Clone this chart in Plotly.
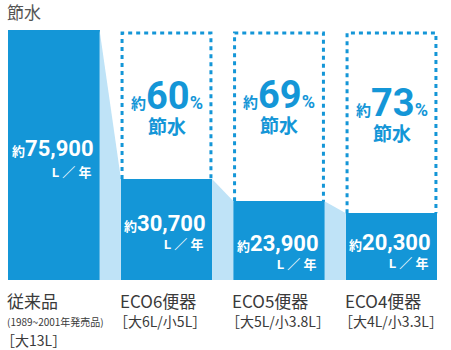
import plotly.graph_objects as go

# ---- data ----
categories = ["従来品", "ECO6便器", "ECO5便器", "ECO4便器"]
sub_labels = ["(1989~2001年発売品)", "", "", ""]
spec_labels = ["［大13L］", "［大6L/小5L］", "［大5L/小3.8L］", "［大4L/小3.3L］"]
water_per_year = [75900, 30700, 23900, 20300]
value_text = ["75,900", "30,700", "23,900", "20,300"]
saving_pct = [None, 60, 69, 73]
title_text = "節水"

# ---- styles ----
BLUE = "#1496d7"
LIGHT = "#bfe3f7"
TEXT = "#3a3a3a"
FONT = "Roboto, 'Noto Sans CJK JP', sans-serif"
JP = "'Noto Sans CJK JP', sans-serif"
W, H = 451, 350
BAR_W = 0.81
hw = BAR_W / 2

# axis mapping (pixel layout)
y_zero_px, y_top_px = 280, 30
units_per_px = water_per_year[0] / (y_zero_px - y_top_px)
y_range = [-(H - y_zero_px) * units_per_px, y_zero_px * units_per_px]
x0_px, pitch_px = 54, 112.5
x_range = [-x0_px / pitch_px, (W - x0_px) / pitch_px]

def py(p):  # pixel y -> paper
    return 1 - p / H

xs = list(range(len(categories)))
fig = go.Figure()

# light connectors between bars
for i in range(len(xs) - 1):
    fig.add_trace(go.Scatter(
        x=[xs[i] + hw, xs[i + 1] - hw, xs[i + 1] - hw, xs[i] + hw],
        y=[water_per_year[i], water_per_year[i + 1], 0, 0],
        fill="toself", fillcolor=LIGHT, line=dict(width=0),
        mode="lines", hoverinfo="skip", showlegend=False))

fig.add_trace(go.Bar(x=xs, y=water_per_year, width=BAR_W,
                     marker=dict(color=BLUE, line=dict(width=0)),
                     hoverinfo="skip", showlegend=False))

# dashed outlines showing the saved amount
box_top = water_per_year[0] - 3 * units_per_px
for i in xs[1:]:
    l, r = xs[i] - hw + 0.01, xs[i] + hw - 0.01
    b = water_per_year[i]
    fig.add_shape(type="path",
                  path=f"M {l},{b} L {l},{box_top} L {r},{box_top} L {r},{b}",
                  xref="x", yref="y",
                  line=dict(color=BLUE, width=3, dash="4px,4px"))

annotations = []
# value labels inside bars
num_y_px = [148, 223, 243, 242]
unit_y_px = [172, 245, 264, 263]
for i in xs:
    annotations.append(dict(
        x=xs[i] + hw, xshift=-4, y=py(num_y_px[i]), xref="x", yref="paper",
        xanchor="right", yanchor="middle", showarrow=False,
        text=f"<span style='font-size:13px'><b>約</b></span><b>{value_text[i]}</b>",
        font=dict(family=FONT, size=22, color="white")))
    annotations.append(dict(
        x=xs[i] + hw, xshift=-6, y=py(unit_y_px[i]), xref="x", yref="paper",
        xanchor="right", yanchor="middle", showarrow=False,
        text="<b>L ／ 年</b>",
        font=dict(family=FONT, size=13, color="white")))

# saving percentages (one text block per box)
save_bottom_px = [None, 141, 140, 148]
for i in xs[1:]:
    annotations.append(dict(
        x=xs[i], y=py(save_bottom_px[i]), xref="x", yref="paper",
        xanchor="center", yanchor="bottom", showarrow=False,
        text=(f"<span style='font-size:15px'><b>約</b></span>"
              f"<span style='font-size:38px'><b>{saving_pct[i]}</b></span>"
              f"<span style='font-size:18px'><b>%</b></span><br><b>節水</b>"),
        font=dict(family=FONT, size=19, color=BLUE)))

# category labels
for i in xs:
    annotations.append(dict(
        x=xs[i] - hw, xshift=-3, y=py(300), xref="x", yref="paper",
        xanchor="left", yanchor="middle", showarrow=False,
        text=categories[i], font=dict(family=JP, size=17, color=TEXT)))
    if sub_labels[i]:
        annotations.append(dict(
            x=xs[i] - hw, xshift=-3, y=py(321), xref="x", yref="paper",
            xanchor="left", yanchor="middle", showarrow=False,
            text=sub_labels[i], font=dict(family=JP, size=10, color=TEXT)))
        annotations.append(dict(
            x=xs[i] - hw, xshift=-9, y=py(340), xref="x", yref="paper",
            xanchor="left", yanchor="middle", showarrow=False,
            text=spec_labels[i], font=dict(family=JP, size=14, color=TEXT)))
    else:
        annotations.append(dict(
            x=xs[i] - hw, xshift=-9, y=py(321), xref="x", yref="paper",
            xanchor="left", yanchor="middle", showarrow=False,
            text=spec_labels[i], font=dict(family=JP, size=14, color=TEXT)))

# title
annotations.append(dict(
    x=xs[0] - hw, xshift=-3, y=py(12), xref="x", yref="paper",
    xanchor="left", yanchor="middle", showarrow=False,
    text=title_text, font=dict(family=JP, size=17, color="#555555")))

fig.update_layout(
    width=W, height=H, margin=dict(l=0, r=0, t=0, b=0),
    paper_bgcolor="white", plot_bgcolor="white",
    xaxis=dict(range=x_range, visible=False, fixedrange=True),
    yaxis=dict(range=y_range, visible=False, fixedrange=True),
    annotations=annotations, bargap=0, showlegend=False)

fig.write_html("out.html", config={"displayModeBar": False})
